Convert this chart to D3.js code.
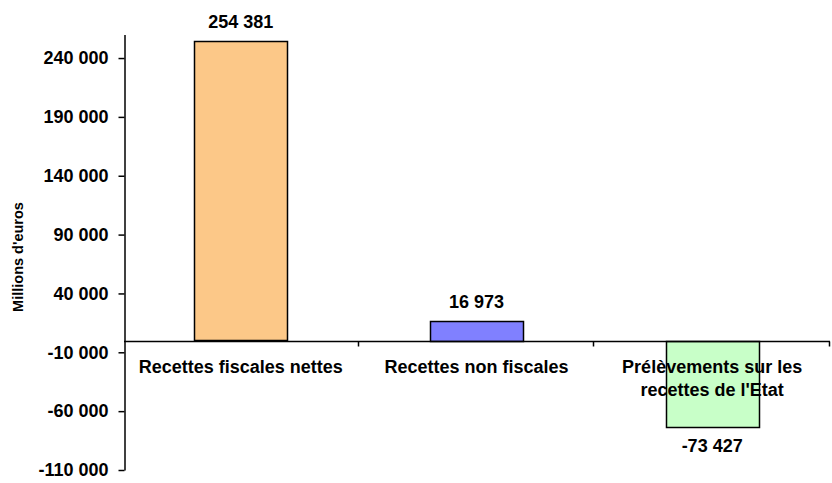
<!DOCTYPE html>
<html>
<head>
<meta charset="utf-8">
<script src="https://cdn.jsdelivr.net/npm/d3@7"></script>
<style>
  body { margin: 0; background: #fff; }
  text { font-family: "Liberation Sans", Arial, sans-serif; font-weight: bold; fill: #000; }
</style>
</head>
<body>
<div id="chart"></div>
<script>
// data
const categories = ["Recettes fiscales nettes", "Recettes non fiscales", "Prélèvements sur les recettes de l'Etat"];
const values = [254381, 16973, -73427];
const colors = ["#FCC888", "#8080FF", "#C8FFC8"];
const tickValues = [-110000, -60000, -10000, 40000, 90000, 140000, 190000, 240000];

const width = 832;
const height = 483;

// space as thousands separator, plain hyphen for minus
const fmt = d3.formatLocale({decimal: ",", thousands: " ", grouping: [3], currency: ["", ""], minus: "-"}).format(",");

const svg = d3.select("#chart").append("svg")
    .attr("width", width)
    .attr("height", height);

const x = d3.scaleBand().domain(categories).range([123, 830]).padding(0);
const y = d3.scaleLinear().domain([-110000, 260000]).range([470, 34.5]);

const barW = 93;

// y axis
const yAxis = svg.append("g")
    .attr("transform", "translate(124.5,0)")
    .call(d3.axisLeft(y).tickValues(tickValues).tickSize(6).tickPadding(10).tickFormat(fmt).tickSizeOuter(0));
yAxis.select(".domain").attr("stroke", "#000").attr("stroke-width", 1.5);
yAxis.selectAll(".tick line").attr("stroke", "#000").attr("stroke-width", 1.5);
yAxis.selectAll(".tick text")
    .attr("font-size", 18)
    .attr("font-family", "Liberation Sans, Arial, sans-serif")
    .attr("font-weight", "bold")
    .attr("fill", "#000");

// y title
svg.append("text")
    .attr("transform", `translate(23,${257}) rotate(-90)`)
    .attr("text-anchor", "middle")
    .attr("font-size", 14.5)
    .text("Millions d'euros");

// bars
svg.selectAll("rect.bar")
    .data(values)
    .join("rect")
    .attr("class", "bar")
    .attr("x", (d, i) => Math.round(x(categories[i]) + (x.bandwidth() - barW) / 2) + 0.5)
    .attr("width", barW)
    .attr("y", d => Math.round(y(Math.max(0, d))) + 0.5)
    .attr("height", d => Math.round(Math.abs(y(d) - y(0))))
    .attr("fill", (d, i) => colors[i])
    .attr("stroke", "#000")
    .attr("stroke-width", 1.5);

// zero line + category ticks
const y0 = Math.round(y(0)) + 0.5;
svg.append("line")
    .attr("x1", 124).attr("x2", 830)
    .attr("y1", y0).attr("y2", y0)
    .attr("stroke", "#000").attr("stroke-width", 1.5);

const bounds = categories.map(c => x(c)).concat([x.range()[1]]);
svg.selectAll("line.ctick")
    .data(bounds.slice(1))
    .join("line")
    .attr("class", "ctick")
    .attr("x1", d => Math.round(d) - 0.5).attr("x2", d => Math.round(d) - 0.5)
    .attr("y1", y0).attr("y2", y0 + 5)
    .attr("stroke", "#000").attr("stroke-width", 1.5);

// value labels
svg.selectAll("text.val")
    .data(values)
    .join("text")
    .attr("class", "val")
    .attr("x", (d, i) => x(categories[i]) + x.bandwidth() / 2)
    .attr("y", d => d >= 0 ? y(d) - 13 : y(d) + 25)
    .attr("text-anchor", "middle")
    .attr("font-size", 18)
    .text(d => fmt(d));

// category labels, wrapped
const maxW = 225;
svg.selectAll("text.cat")
    .data(categories)
    .join("text")
    .attr("class", "cat")
    .attr("x", d => x(d) + x.bandwidth() / 2)
    .attr("y", 373)
    .attr("text-anchor", "middle")
    .attr("font-size", 18)
    .each(function(d) {
        const el = d3.select(this);
        const cx = el.attr("x");
        const words = d.split(" ");
        let line = [];
        let tspan = el.append("tspan").attr("x", cx).attr("dy", 0);
        words.forEach(w => {
            line.push(w);
            tspan.text(line.join(" "));
            if (tspan.node().getComputedTextLength() > maxW && line.length > 1) {
                line.pop();
                tspan.text(line.join(" "));
                line = [w];
                tspan = el.append("tspan").attr("x", cx).attr("dy", 23).text(w);
            }
        });
    });
</script>
</body>
</html>
